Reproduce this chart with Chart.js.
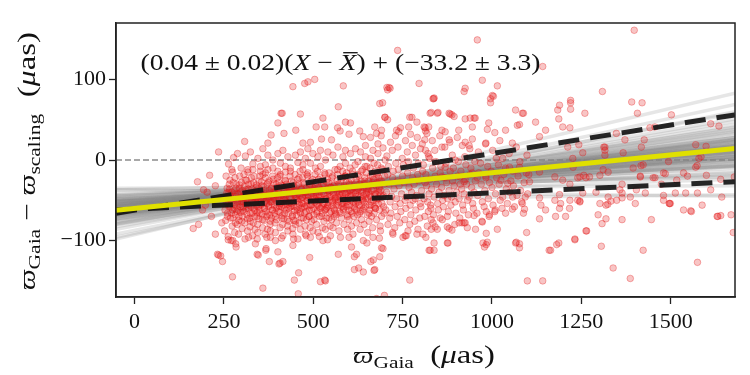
<!DOCTYPE html>
<html>
<head>
<meta charset="utf-8">
<script src="https://cdn.jsdelivr.net/npm/chart.js@4"></script>
<style>
html, body { margin: 0; padding: 0; background: #fff; }
canvas { display: block; }
</style>
</head>
<body>
<canvas id="chart" width="750" height="375"></canvas>
<script>
const x_ticks = [0, 250, 500, 750, 1000, 1250, 1500];
const y_ticks = [-100, 0, 100];
const x_range = [-52, 1680];
const y_range = [-170, 170];

// straight lines, given as [y at left edge, y at right edge]
const best_fit = [-62.5, 14.3];
const upper_dashed = [-66, 56];
const lower_dashed = [-62, -27];
const zero_line = [0, 0];

// posterior sample lines (grey fan)
const posterior_left = [-59, -45, -73, -56, -62, -41, -79, -66, -52, -69, -51, -86, -35, -55, -63, -73, -45, -69, -51, -62,
    -57, -69, -49, -63, -47, -67, -56, -96, -37, -65, -53, -80, -49, -57, -68, -37, -62, -60, -79, -54,
    -64, -61, -74, -43, -68, -52, -98, -48, -64, -58, -55, -78, -58, -55, -74, -51, -92, -61,
    -60, -66, -54, -71, -48, -58, -63, -70, -57, -65, -52, -76, -61, -67, -56, -44, -83, -59, -64, -50];
const posterior_right = [10, -7, 28, -3, 23, -20, 44, 12, 10, 24, -6, 58, -32, 16, 4, 38, -18, 19, 1, 18,
    4, 35, -16, 11, 1, 23, 10, 69, -45, 17, 4, 36, -7, 15, 28, -21, 14, 4, 51, -4,
    23, 8, 33, -8, 15, 7, 83, -24, 28, 9, -8, 41, 18, 1, 25, -43, 60, 19,
    6, 20, 2, 31, -10, 13, 16, 26, 8, 21, -1, 40, 12, 25, 5, -14, 48, 14, 18, -2];

// stars [parallax Gaia, difference]
const stars_left = [[179,-80],[198,-56],[226,-32],[235,10],[210,-19],[176,-27],[193,-37],[164,-85],[308,23],[203,-40],
    [226,-92],[262,-99],[283,-104],[275,-100],[190,-62],[215,-70],[240,-48],[244,-78]];

const stars_core = [
    [253,-62],[257,-48],[255,-75],[259,-35],[252,-88],[256,-20],
    [261,-55],[264,-40],[260,-70],[265,-30],[262,-95],[263,-5],
    [268,-45],[271,-66],[269,-58],[273,-82],[267,-25],[272,-12],[270,-100],
    [276,-50],[279,-38],[275,-72],[278,-60],[280,-90],[274,-15],[277,3],
    [283,-42],[286,-57],[282,-68],[285,-30],[287,-80],[284,-108],[281,-22],
    [290,-48],[293,-35],[289,-62],[292,-75],[294,-20],[291,-92],[288,8],[295,-55],
    [297,-40],[300,-52],[296,-65],[299,-28],[301,-85],[298,-10],[302,-70],[303,-45],
    [304,-58],[307,-33],[305,-47],[308,-78],[306,-18],[309,-98],[303,-62],[310,5],
    [311,-44],[314,-55],[312,-37],[315,-68],[313,-25],[316,-88],[310,-50],[317,-12],
    [318,-60],[321,-41],[319,-30],[322,-72],[320,-52],[323,-83],[317,-15],[324,10],
    [325,-46],[328,-36],[326,-58],[329,-66],[327,-22],[330,-94],[324,-76],[331,-5],
    [332,-53],[335,-42],[333,-28],[336,-70],[334,-60],[337,-86],[331,-12],[338,-48],
    [339,-39],[342,-57],[340,-47],[343,-65],[341,-31],[344,-80],[338,-104],[345,2],
    [346,-50],[349,-62],[347,-35],[350,-44],[348,-73],[351,-20],[345,-90],[352,-8],
    [353,-56],[356,-40],[354,-48],[357,-67],[355,-27],[358,-84],[352,-14],[359,14],
    [360,-45],[363,-60],[361,-33],[364,-52],[362,-75],[365,-92],[359,-18],[366,-6],
    [367,-42],[370,-54],[368,-64],[371,-30],[369,-70],[372,-86],[366,-22],[373,6],[368,-110],
    [374,-48],[377,-38],[375,-58],[378,-68],[376,-26],[379,-80],[373,-12],[380,-96],
    [381,-52],[384,-44],[382,-35],[385,-62],[383,-72],[386,-20],[380,-88],[387,0],
    [388,-40],[391,-56],[389,-47],[392,-66],[390,-29],[393,-78],[387,-10],[394,-100],
    [395,-50],[398,-34],[396,-60],[399,-43],[397,-74],[400,-22],[394,-90],[401,8],
    [402,-46],[405,-57],[403,-38],[406,-65],[404,-28],[407,-84],[401,-14],[408,-4],
    [409,-53],[412,-42],[410,-31],[413,-69],[411,-58],[414,-80],[408,-18],[415,12],
    [416,-44],[419,-60],[417,-36],[420,-50],[418,-73],[421,-25],[415,-94],[422,-8],
    [423,-48],[426,-38],[424,-62],[427,-55],[425,-30],[428,-82],[422,-15],[429,4],
    [430,-41],[433,-53],[431,-66],[434,-34],[432,-76],[435,-20],[429,-88],[436,-58],
    [437,-47],[440,-57],[438,-37],[441,-70],[439,-26],[442,-85],[436,-10],[443,-106],
    [444,-52],[447,-43],[445,-32],[448,-63],[446,-75],[449,-18],[443,-92],[450,6],
    [451,-45],[454,-59],[452,-38],[455,-50],[453,-68],[456,-24],[450,-80],[457,-3],
    [458,-42],[461,-55],[459,-30],[462,-64],[460,-78],[463,-14],[457,-98],[464,10],
    [465,-49],[468,-36],[466,-60],[469,-46],[467,-72],[470,-22],[464,-86],[471,-6],
    [472,-54],[475,-40],[473,-28],[476,-66],[474,-58],[477,-82],[471,-12],[478,2],
    [479,-44],[482,-57],[480,-35],[483,-50],[481,-74],[484,-20],[478,-92],[485,14],
    [486,-47],[489,-62],[487,-38],[490,-30],[488,-70],[491,-84],[485,-16],[492,-4],
    [493,-52],[496,-42],[494,-56],[497,-33],[495,-76],[498,-24],[492,-96],[499,8],
    [500,-45],[503,-36],[501,-60],[504,-48],[502,-68],[505,-18],[499,-88],[506,-10],
    [507,-40],[510,-55],[508,-28],[511,-64],[509,-80],[512,-14],[506,-50],[513,4],
    [514,-50],[517,-43],[515,-34],[518,-70],[516,-58],[519,-22],[513,-90],[520,12],
    [521,-46],[524,-58],[522,-37],[525,-66],[523,-26],[526,-84],[520,-8],
    [528,-42],[531,-54],[529,-30],[532,-62],[530,-76],[533,-18],[527,-100],[534,0],
    [535,-48],[538,-36],[536,-60],[539,-44],[537,-72],[540,-24],[534,-86],[541,10],
    [542,-53],[545,-40],[543,-28],[546,-66],[544,-16],[547,-82],[541,-56],
    [549,-45],[552,-57],[550,-34],[553,-50],[551,-74],[554,-20],[548,-94],[555,6],
    [556,-40],[559,-62],[557,-32],[560,-48],[558,-70],[561,-12],[555,-84],
    [563,-47],[566,-38],[564,-56],[567,-26],[565,-78],[568,-18],[562,-66],[569,16],
    [570,-52],[573,-42],[571,-30],[574,-64],[572,-88],[575,-8],[569,-46],
    [577,-44],[580,-58],[578,-36],[581,-22],[579,-72],[582,-14],[576,-96],[583,4],
    [584,-48],[587,-34],[585,-60],[588,-40],[586,-80],[589,-20],[583,-54],[590,12],
    [591,-42],[594,-52],[592,-28],[595,-68],[593,-16],[596,-86],[590,-4],
    [598,-46],[601,-38],[599,-62],[602,-30],[600,-74],[603,-10],[597,-56],[604,8],
    [605,-50],[608,-36],[606,-24],[609,-66],[607,-82],[610,-14],[604,-44],
    [612,-40],[615,-58],[613,-32],[616,-48],[614,-70],[617,-6],[611,-92],[618,14],
    [619,-45],[622,-28],[620,-62],[623,-38],[621,-78],[624,-18],[618,-54],
    [626,-52],[629,-34],[627,-20],[630,-66],[628,-44],[631,-86],[625,-2],[632,10],
    [633,-38],[636,-56],[634,-26],[637,-48],[635,-74],[638,-12],[632,-64],
    [640,-44],[643,-30],[641,-60],[644,-22],[642,-80],[645,-8],[639,-50],[646,18],
    [647,-48],[650,-36],[648,-16],[651,-68],[649,-42],[652,-90],[646,4],
    [654,-40],[657,-56],[655,-26],[658,-62],[656,-76],[659,-10],[653,-32],
    [661,-46],[664,-30],[662,-52],[665,-20],[663,-70],[666,-84],[660,2],[667,12],
    [668,-36],[671,-58],[669,-24],[672,-44],[670,-66],[673,-14],[667,-96],
    [675,-42],[678,-28],[676,-50],[679,-18],[677,-74],[680,-6],[674,-60],[681,20],
    [682,-48],[685,-34],[683,-22],[686,-62],[684,-40],[687,-82],[681,8],
    [689,-38],[692,-54],[690,-26],[693,-12],[691,-70],[694,-46],[688,-88],
    [696,-44],[699,-30],[697,-58],[700,-20],[698,-66],[701,0],[695,15]];

const stars_dense = [
    [256,-52],[258,-41],[260,-66],[262,-47],[264,-58],[266,-36],[268,-72],[270,-50],[272,-40],[274,-62],
    [276,-28],[278,-55],[280,-45],[282,-78],[284,-35],[286,-64],[288,-52],[290,-42],[292,-70],[294,-31],
    [296,-58],[298,-47],[300,-76],[302,-38],[304,-52],[306,-64],[308,-43],[310,-25],[312,-60],[314,-48],
    [316,-73],[318,-36],[320,-56],[322,-45],[324,-66],[326,-30],[328,-50],[330,-40],[332,-78],[334,-20],
    [336,-62],[338,-52],[340,-34],[342,-70],[344,-46],[346,-58],[348,-26],[350,-66],[352,-42],[354,-54],
    [356,-32],[358,-74],[360,-48],[362,-38],[364,-60],[366,-16],[368,-50],[370,-44],[372,-68],[374,-28],
    [376,-56],[378,-46],[380,-76],[382,-36],[384,-52],[386,-62],[388,-24],[390,-48],[392,-40],[394,-70],
    [396,-30],[398,-58],[400,-46],[402,-64],[404,-36],[406,-20],[408,-54],[410,-44],[412,-72],[414,-32],
    [416,-56],[418,-48],[420,-66],[422,-26],[424,-52],[426,-40],[428,-74],[430,-34],[432,-60],[434,-46],
    [436,-14],[438,-54],[440,-42],[442,-68],[444,-28],[446,-58],[448,-38],[450,-76],[452,-48],[454,-32],
    [456,-62],[458,-52],[460,-22],[462,-44],[464,-66],[466,-36],[468,-54],[470,-46],[472,-72],[474,-30],
    [476,-58],[478,-40],[480,-64],[482,-18],[484,-50],[486,-44],[488,-70],[490,-34],[492,-56],[494,-26],
    [496,-62],[498,-48],[500,-38],[502,-74],[504,-52],[506,-30],[508,-44],[510,-66],[512,-56],[514,-24],
    [516,-46],[518,-36],[520,-60],[522,-50],[524,-70],[526,-32],[528,-54],[530,-42],[532,-16],[534,-62],
    [536,-48],[538,-28],[540,-58],[542,-38],[544,-72],[546,-46],[548,-34],[550,-64],[552,-22],[554,-52],
    [556,-42],[558,-60],[560,-30],[562,-50],[564,-68],[566,-40],[568,-12],[570,-56],[572,-36],[574,-46],
    [576,-66],[578,-26],[580,-54],[582,-42],[584,-62],[586,-32],[588,-50],[590,-20],[592,-58],[594,-40],
    [596,-70],[598,-48],[600,-28],[602,-56],[604,-38],[606,-64],[608,-44],[610,-18],[612,-52],[614,-34],
    [616,-60],[618,-42],[620,-24],[622,-50],[624,-68],[626,-36],[628,-56],[630,-30],[632,-46],[634,-14],
    [636,-40],[638,-62],[640,-34],[642,-52],[644,-26],[646,-58],[648,-40],[650,-8],[652,-48],[654,-36],
    [656,-66],[658,-44],[660,-20],[662,-56],[664,-38],[666,-28],[668,-50],[670,-4],[672,-42],[674,-60],
    [676,-32],[678,-48],[680,-16],[682,-54],[684,-36],[686,-26],[688,-44],[690,-10]];

const stars_mid = [
    [705,-40],[708,-18],[703,-62],[706,5],[709,-80],[712,-30],[715,-52],[710,-8],[714,-72],[716,22],
    [719,-45],[722,-22],[717,-66],[721,12],[723,-92],[726,-36],[729,-58],[724,-14],[728,-84],[730,30],
    [733,-48],[736,-26],[731,-4],[735,-70],[737,16],[740,-32],[743,-54],[738,-12],[742,-78],[744,40],
    [747,-42],[750,-20],[745,-64],[749,2],[751,-96],[754,-28],[757,-50],[752,-6],[756,-74],[758,24],
    [761,-46],[764,-16],[759,-60],[763,10],[765,-88],[768,-34],[771,-56],[766,-2],[770,-80],[772,32],
    [775,-40],[778,-22],[773,-68],[777,18],[779,-50],[782,-30],[785,-48],[780,-10],[784,-76],[786,6],
    [789,-44],[792,-18],[787,-62],[791,28],[793,-86],[796,-26],[799,-54],[794,-4],[798,-72],[800,14],
    [803,-38],[806,-14],[801,-58],[805,20],[807,-92],[810,-48],[813,-28],[808,-6],[812,-70],[814,36],
    [817,-32],[820,-52],[815,-18],[819,-82],[821,8],[824,-42],[827,-24],[822,-64],[826,2],[828,-56],
    [831,-36],[834,-10],[829,-60],[833,24],[835,-78],[838,-46],[841,-20],[836,-68],[840,12],
    [845,-30],[848,-54],[843,-2],[847,-86],[852,-40],[855,-16],[850,-62],[854,30],
    [859,-34],[862,-50],[857,-8],[861,-74],[866,-44],[869,-22],[864,-58],[868,16],
    [873,-28],[876,-48],[871,-4],[875,-70],[880,-38],[883,-14],[878,-64],[882,22],
    [887,-46],[890,-26],[885,-56],[889,6],[894,-32],[897,-52],[892,-10],[896,-80],
    [901,-40],[904,-20],[899,-66],[903,28],[908,-48],[911,-30],[906,-2],[910,-72],
    [915,-36],[918,-56],[913,-14],[917,18],[922,-42],[925,-24],[920,-62],[924,4],
    [929,-30],[932,-50],[927,-6],[931,-84],[936,-46],[939,-18],[934,-68],[938,14],
    [943,-34],[946,-54],[941,-10],[945,26],[950,-40],[953,-26],[948,-60],[952,-2],
    [960,-44],[963,-16],[958,-66],[962,10],[970,-30],[973,-52],[968,-4],[972,-76],
    [980,-38],[983,-20],[978,-58],[982,20],[990,-48],[993,-28],[988,-8],[992,-70],
    [1000,-34],[1003,-56],[998,-14],[1002,12],[1010,-42],[1013,-22],[1008,-64],[1012,2],
    [1020,-30],[1023,-50],[1018,-6],[1022,24],[1030,-46],[1033,-18],[1028,-60],
    [1040,-36],[1043,-54],[1038,-10],[1050,-40],[1053,-26],[1048,8],
    [1060,-32],[1063,-58],[1058,-14],[1070,-44],[1073,-20],[1068,16],
    [1080,-38],[1083,-52],[1078,-2],[1090,-28],[1093,-46],[1088,-66],[1100,-42],[1103,-18],[1098,6]];

const stars_above = [
    [443,91],[476,95],[485,97],[584,92],[410,58],[464,57],[401,46],[527,52],[570,66],[686,70],
    [590,47],[604,46],[508,41],[451,37],[568,40],[640,29],[677,33],[418,33],[382,31],[413,58],
    [532,41],[708,87],[701,53],[708,50],[373,21],[471,21],[492,22],[523,26],[551,25],[600,32],
    [630,36],[660,28],[690,30],[575,36],[736,136],[504,100],[712,90],
    [959,149],[706,90],[715,89],[796,95],[925,89],[973,99],[1015,92],[835,76],[996,76],[1004,79],
    [694,71],[830,59],[849,59],[888,56],[880,58],[700,53],[776,53],[790,47],[939,52],[953,52],
    [991,46],[1066,62],[1088,58],[1184,62],[1122,47],[672,41],[691,37],[733,37],[810,41],[818,33],
    [860,37],[907,37],[1038,37],[1071,43],[1218,40],[1150,37],[770,53],[739,35],[767,41],[813,40],
    [1142,116],[838,77],[1220,74]];

const stars_below = [
    [235,-118],[246,-126],[274,-145],[377,-126],[407,-128],[401,-114],[346,-118],[367,-112],[459,-140],[490,-121],
    [532,-149],[615,-120],[615,-136],[640,-139],[670,-137],[686,-120],[232,-117],[241,-119],[359,-159],[415,-126],
    [404,-129],[447,-149],[458,-166],[520,-151],[534,-150],[570,-117],[607,-108],[621,-117],[627,-134],[661,-126],
    [695,-110],[677,-172],[699,-168],[770,-149],[824,-112],[757,-94],[343,-117],
    [319,-96],[343,-98],[370,-96],[411,-97],[445,-98],[480,-94],[517,-95],[540,-99],[600,-96],[640,-100],
    [650,-103],[685,-97],[722,-90],[760,-94],[790,-92],[815,-96],
    [691,-109],[668,-124],[672,-136],[838,-112],[877,-103],[875,-83],[888,-87],[916,-78],[925,-78],[830,-74],
    [855,-72],[973,-77],[987,-102],[984,-105],[1015,-86],[1068,-102],[1077,-104],[1097,-90],[1133,-73],[1150,-62],
    [1178,-70],[1189,-43],[1192,-54],[1160,-112],[1187,-103]];

const stars_right = [
    [827,-112],[838,-103],[875,-103],[830,-86],[841,-83],[880,-85],[954,-86],[984,-91],[975,-103],[979,-108],
    [1066,-103],[1077,-109],[1099,-150],[1142,-150],[1164,-112],[1181,-105],[1232,-99],[1263,-88],[1306,-107],[1308,-79],
    [1319,-73],[1297,-68],[1339,-134],[1364,-74],[1387,-147],[1423,-112],[1446,-74],[1496,-54],[1536,-62],[1558,-64],
    [1575,-127],[1630,-70],[1640,-69],[1669,-68],[1675,-90],[1206,-70],[1189,-60],[1217,-60],[1246,-52],[1137,-56],
    [1324,-55],[1401,-54],[1091,-61],[1057,-61],[1038,-66],[1009,-62],[984,-64],[993,-68],[950,-69],[922,-78],[908,-78],
    [837,76],[827,58],[847,58],[883,57],[894,54],[925,51],[950,52],[922,85],[1001,80],[996,71],
    [1085,58],[1189,68],[1220,71],[1220,63],[1260,58],[1391,72],[1420,71],[1407,58],[1309,85],[1502,56],
    [1612,45],[1635,42],[945,41],[987,38],[1008,34],[1077,44],[1187,51],[1198,41],[1133,29],[1057,21],
    [1030,2],[983,21],[925,22],[936,18],[880,25],[869,35],[823,41],[812,25],[860,16],[1316,16],
    [1316,12],[1367,9],[1417,-7],[1415,-21],[1451,-22],[1494,-2],[1570,19],[1599,17],[1579,2],[1480,-16],
    [1517,-25],[1570,-9],[1678,-21],[1311,-12],[1227,-9],[1246,-21],[1263,-22],[1198,-25],[1176,-21],[1133,-15],
    [1096,-16],[1105,-27],[1049,-9],[1077,-9],[983,-22],[1025,-25],[1044,-29],[945,-16],[959,-22],[897,0],
    [911,-21],[922,-27],[860,-21],[869,-9],[814,12],[823,4],[1358,-37],[1387,-46],[1404,-37],[1480,-50],
    [1499,-54],[1575,-41],[1588,-56],[1325,-46],[1349,-50],[1254,-41],[1291,-40],[1302,-54],[1218,-50],[1240,-50],
    [1133,-47],[1176,-50],[1058,-46],[1085,-54],
    [1398,161],[1426,25],[1418,16],[1442,40],[1456,41],[1372,25],[1348,33],[1313,16],[1316,6],[1243,19],
    [1254,9],[1226,2],[1212,16],[1585,4],[1574,-7],[1423,-6],[1395,-10],[1325,-15],[1302,-19],[1415,-20],
    [1456,-22],[1485,-17],[1536,-16],[1547,-20],[1600,-19],[1640,-24],[1474,-30],[1364,-30],[1273,-21],[1257,-19],
    [1240,-22],[1218,-30],[1364,-41],[1364,-47],[1429,-41],[1480,-44],[1513,-41],[1542,-41],[1612,-37],[1643,-46],
    [1497,-54],[1333,-51],[1319,-56],[1246,-51],[1265,-88],[1232,-98],[1556,-63],[1632,-70]];

const SERIF = "'Liberation Serif', 'DejaVu Serif', serif";

function to_points(pairs) {
    return pairs.map(p => ({x: p[0], y: p[1]}));
}

function edge_line(ends) {
    return [{x: x_range[0], y: ends[0]}, {x: x_range[1], y: ends[1]}];
}

function minus_label(v) {
    return v < 0 ? '\u2212' + Math.abs(v) : String(v);
}

// text pieces: [text, size, italic, dy, overline]
function piece_font(p) {
    return (p[2] ? 'italic ' : '') + p[1] + 'px ' + SERIF;
}

function draw_rich(ctx, parts, x0, y0, width, angle) {
    ctx.save();
    ctx.translate(x0, y0);
    if (angle) ctx.rotate(angle);
    let natural = 0;
    parts.forEach(p => { ctx.font = piece_font(p); natural += ctx.measureText(p[0]).width; });
    ctx.scale(width / natural, 1);
    ctx.fillStyle = '#111';
    ctx.textAlign = 'left';
    ctx.textBaseline = 'alphabetic';
    let x = 0;
    parts.forEach(p => {
        ctx.font = piece_font(p);
        ctx.fillText(p[0], x, p[3] || 0);
        let w = ctx.measureText(p[0]).width;
        if (p[4]) ctx.fillRect(x + 3, -p[1] * 0.78, w - 2, 1.3);
        x += w;
    });
    ctx.restore();
}

const annotation = [['(0.04 \u00b1 0.02)(', 23], ['X', 23, true], [' \u2212 ', 23], ['X', 23, true, 0, true], [') + (\u221233.2 \u00b1 3.3)', 23]];
const x_title = [['\u03d6', 23, true], ['Gaia', 17, false, 5], ['  (', 26], ['\u03bc', 25, true], ['as)', 26]];
const y_title = [['\u03d6', 23, true], ['Gaia', 17, false, 5], [' \u2212 ', 25], ['\u03d6', 23, true], ['scaling', 17, false, 5], ['  (', 26], ['\u03bc', 25, true], ['as)', 26]];

const frame_and_text = {
    id: 'frame_and_text',
    afterDatasetsDraw(chart) {
        const a = chart.chartArea;
        const ctx = chart.ctx;
        ctx.save();
        ctx.strokeStyle = '#222';
        ctx.lineWidth = 1.5;
        ctx.strokeRect(a.left, a.top, a.right - a.left, a.bottom - a.top);
        ctx.restore();
    },
    afterDraw(chart) {
        const ctx = chart.ctx;
        draw_rich(ctx, annotation, 140.5, 70, 400, 0);
        draw_rich(ctx, x_title, 353, 363, 142, 0);
        draw_rich(ctx, y_title, 35, 290, 258, -Math.PI / 2);
    }
};

let datasets = [];

datasets.push({
    data: edge_line(best_fit), showLine: true, pointRadius: 0,
    borderColor: '#e0e000', borderWidth: 5, clip: 0
});
datasets.push({
    data: edge_line(upper_dashed), showLine: true, pointRadius: 0,
    borderColor: 'rgba(20,20,20,0.92)', borderWidth: 5, borderDash: [21, 11], clip: 0
});
datasets.push({
    data: edge_line(lower_dashed), showLine: true, pointRadius: 0,
    borderColor: 'rgba(20,20,20,0.92)', borderWidth: 5, borderDash: [21, 11], clip: 0
});

const all_stars = [].concat(stars_left, stars_core, stars_dense, stars_mid, stars_above, stars_below, stars_right);
datasets.push({
    data: to_points(all_stars), showLine: false,
    pointRadius: 3.3, pointBorderWidth: 1,
    pointBackgroundColor: 'rgba(228,22,22,0.25)',
    pointBorderColor: 'rgba(228,22,22,0.32)', clip: 0
});

for (let i = 0; i < posterior_left.length; i++) {
    datasets.push({
        data: edge_line([posterior_left[i], posterior_right[i]]), showLine: true, pointRadius: 0,
        borderColor: 'rgba(128,128,128,0.2)', borderWidth: 3.5, clip: 0
    });
}

datasets.push({
    data: edge_line(zero_line), showLine: true, pointRadius: 0,
    borderColor: '#8c8c8c', borderWidth: 1.3, borderDash: [6, 3], clip: 0
});

const tick_font = {family: SERIF, size: 22};

new Chart(document.getElementById('chart'), {
    type: 'scatter',
    data: {datasets: datasets},
    options: {
        responsive: false,
        animation: false,
        devicePixelRatio: 1,
        events: [],
        layout: {padding: {top: 23, right: 15, left: 0, bottom: 0}},
        plugins: {legend: {display: false}, tooltip: {enabled: false}},
        scales: {
            x: {
                type: 'linear', min: x_range[0], max: x_range[1],
                afterBuildTicks: s => { s.ticks = x_ticks.map(v => ({value: v})); },
                afterFit: s => { s.height = 78; },
                grid: {drawOnChartArea: false, tickLength: 7, tickColor: '#222', tickWidth: 1.3},
                border: {color: '#222', width: 1.5},
                ticks: {font: tick_font, color: '#111', padding: 5, maxRotation: 0, autoSkip: false, callback: minus_label}
            },
            y: {
                type: 'linear', min: y_range[0], max: y_range[1],
                afterBuildTicks: s => { s.ticks = y_ticks.map(v => ({value: v})); },
                afterFit: s => { s.width = 116; },
                grid: {drawOnChartArea: false, tickLength: 7, tickColor: '#222', tickWidth: 1.3},
                border: {color: '#222', width: 1.5},
                ticks: {font: tick_font, color: '#111', padding: 3, autoSkip: false, callback: minus_label}
            }
        }
    },
    plugins: [frame_and_text]
});
</script>
</body>
</html>
